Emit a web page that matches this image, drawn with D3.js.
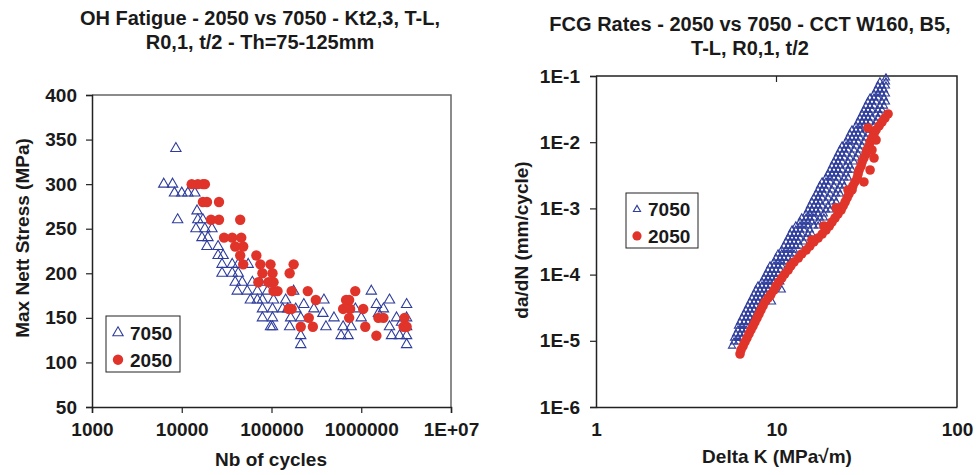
<!DOCTYPE html>
<html>
<head>
<meta charset="utf-8">
<script src="https://cdn.jsdelivr.net/npm/d3@7"></script>
<style>
body { margin: 0; background: #fff; }
svg text { font-family: "Liberation Sans", Arial, sans-serif; font-weight: bold; fill: #1a1a1a; }
</style>
</head>
<body>
<div id="main"></div>
<script>
const ctx = {
    WIDTH: 977,
    HEIGHT: 475,
    blue: "#2e3d9c",
    red: "#e0342a",
};

const seriesNames = ["7050", "2050"];

// OH fatigue: [Nb of cycles, max nett stress MPa]
const fatigue7050 = [
    [6300,300],[7900,300],[8600,340],
    [8300,290],[10000,290],[11700,290],[14000,290],
    [14800,270],[9000,260],[15100,260],[17200,260],
    [14400,250],[18100,250],[21700,250],
    [16800,240],[19600,240],
    [19100,230],[25400,230],
    [25400,220],[28900,220],
    [28100,210],[36500,210],[42600,210],[55000,210],
    [28100,200],[36500,200],[42600,200],
    [39400,190],[47200,190],[61200,190],[75000,190],
    [41500,180],[53700,180],[69600,180],[90200,180],[176500,180],
    [58100,170],[69600,170],[79200,170],[105300,170],[143700,170],[229000,165],[384000,170],
    [79200,160],[102600,160],[133000,160],[151300,160],[186000,160],[296500,160],
    [79200,150],[102600,150],[163400,150],[211800,150],[374000,155],[497000,150],
    [97500,140],[102600,140],[159300,140],[404000,140],[628000,140],[772000,140],
    [211800,130],[714000,130],[596000,130],
    [211800,120],
    [1295000,180],[1475000,165],[2064000,170],[860000,160],[1000000,150],[2473000,150],
    [1767000,160],[2064000,140],[2173000,130],[2673000,130],[3202000,165],[3202000,150],
    [3202000,140],[3202000,130],[3202000,120],[2813000,145],[1553000,155]
];
const fatigue2050 = [
    [12900,300],[15100,300],[17200,300],[18100,300],
    [17200,280],[19100,280],[26000,280],
    [21200,260],[26000,260],[44800,260],
    [29600,240],[36500,240],[46000,240],
    [39400,230],[48400,230],
    [44800,220],[67800,220],
    [48400,210],[75200,210],[97500,210],[176500,210],
    [79200,200],[102600,200],[159300,200],
    [71400,190],[92500,190],[105300,190],
    [105300,180],[116800,180],[167700,180],[253600,180],[857000,180],
    [312000,170],[678000,170],[733000,170],
    [155200,160],[167700,160],[628000,160],[752000,160],[1052000,160],
    [260400,150],[733000,150],[1553000,150],[1767000,150],[3040000,150],
    [211800,140],[288900,140],[1109000,140],[2962000,140],[3202000,140],
    [1475000,130]
];
const fatigueXTicks = [1000, 10000, 100000, 1000000, 10000000];
const fatigueXLabels = ["1000", "10000", "100000", "1000000", "1E+07"];
const fatigueYTicks = [50, 100, 150, 200, 250, 300, 350, 400];

// FCG rates 7050, read row by row: [da/dN, delta K values at that rate...]
const fcg7050Rows = [
    [8.34e-6, 5.67],
    [9.6e-6, 5.82, 6.12],
    [1.10e-5, 5.82, 6.12, 6.44],
    [1.27e-5, 5.97, 6.28, 6.61],
    [1.46e-5, 6.12, 6.44, 6.78, 7.13],
    [1.67e-5, 6.12, 6.44, 6.78],
    [1.92e-5, 6.28, 6.61, 6.95, 7.32],
    [2.21e-5, 6.44, 6.78, 7.13, 7.51],
    [2.54e-5, 6.61, 6.95, 7.32],
    [2.92e-5, 6.78, 7.13, 7.51, 7.90],
    [3.36e-5, 6.95, 7.32, 7.70],
    [3.86e-5, 7.13, 7.51, 7.90, 8.31, 9.45],
    [4.43e-5, 7.32, 7.70, 8.10, 8.53],
    [5.10e-5, 7.51, 7.90, 8.31, 8.75],
    [5.85e-5, 7.70, 8.10, 8.53, 8.98, 10.7],
    [6.73e-5, 7.90, 8.31, 8.75, 9.21],
    [7.73e-5, 8.31, 8.75, 9.21, 9.69, 10.5],
    [8.89e-5, 8.53, 8.98, 9.45, 9.94],
    [1.02e-4, 8.75, 9.21, 9.69, 10.2],
    [1.17e-4, 8.98, 9.45, 9.94, 10.5, 11.3],
    [1.35e-4, 9.21, 9.69, 10.2, 10.7],
    [1.55e-4, 9.69, 10.2, 10.7, 11.3, 11.9],
    [1.78e-4, 9.94, 10.5, 11.0, 11.6],
    [2.05e-4, 10.2, 10.7, 11.3, 11.9, 12.5],
    [2.35e-4, 10.7, 11.3, 11.9, 12.5],
    [2.70e-4, 11.0, 11.6, 12.2, 12.8, 13.5],
    [3.11e-4, 11.3, 11.9, 12.5, 13.2, 14.2],
    [3.57e-4, 11.6, 12.2, 12.8, 13.5, 14.6],
    [4.10e-4, 11.9, 12.5, 13.2, 13.8, 14.95, 15.7],
    [4.72e-4, 12.2, 12.8, 13.5, 14.2, 15.3],
    [5.42e-4, 12.8, 13.5, 14.2, 14.95, 16.1, 17.0],
    [6.23e-4, 13.5, 14.2, 14.95, 15.7, 17.0],
    [7.16e-4, 13.8, 14.6, 15.3, 16.1, 17.4, 18.3],
    [8.23e-4, 14.6, 15.3, 16.1, 17.0, 18.3],
    [9.46e-4, 14.95, 15.7, 16.6, 17.4, 18.8, 19.8],
    [1.09e-3, 15.3, 16.1, 17.0, 17.9, 19.3],
    [1.25e-3, 15.7, 16.6, 17.4, 18.8, 20.3, 21.4],
    [1.44e-3, 16.1, 17.0, 17.9, 19.3, 20.8],
    [1.65e-3, 16.6, 17.4, 18.3, 19.8, 21.4, 22.5],
    [1.90e-3, 17.0, 17.9, 18.8, 20.3, 21.9],
    [2.18e-3, 17.4, 18.3, 19.3, 20.8, 22.5, 23.7],
    [2.51e-3, 17.9, 18.8, 19.8, 21.4, 23.1],
    [2.88e-3, 18.8, 19.8, 20.8, 21.9, 23.7, 24.9],
    [3.31e-3, 19.3, 20.3, 21.4, 22.5, 24.3],
    [3.80e-3, 19.8, 20.8, 21.9, 23.1, 24.9, 26.2],
    [4.37e-3, 20.3, 21.4, 22.5, 24.3, 25.5],
    [5.02e-3, 20.8, 21.9, 23.1, 24.9, 26.9],
    [5.77e-3, 21.4, 22.5, 23.7, 25.5, 27.6],
    [6.63e-3, 21.9, 23.1, 24.3, 26.2, 28.3],
    [7.62e-3, 22.5, 23.7, 24.9, 26.9, 29.0],
    [8.76e-3, 23.1, 24.3, 25.5, 27.6, 29.8],
    [1.01e-2, 24.3, 25.5, 26.9, 28.3, 30.5],
    [1.16e-2, 24.9, 26.2, 27.6, 29.0, 31.3],
    [1.33e-2, 25.5, 26.9, 28.3, 29.8, 32.1],
    [1.53e-2, 26.2, 27.6, 29.0, 31.3, 33.0],
    [1.76e-2, 27.6, 29.0, 30.5, 32.1, 34.7],
    [2.02e-2, 28.3, 29.8, 31.3, 33.0, 35.6],
    [2.32e-2, 29.0, 30.5, 32.1, 33.8, 36.5],
    [2.67e-2, 29.8, 31.3, 33.0, 35.6, 37.4],
    [3.06e-2, 30.5, 32.1, 33.8, 36.5, 38.4],
    [3.52e-2, 31.3, 33.0, 34.7, 37.4, 39.4],
    [4.05e-2, 32.1, 33.8, 35.6, 38.4, 40.4],
    [4.65e-2, 33.0, 34.7, 36.5, 39.4],
    [5.35e-2, 34.7, 36.5, 38.4, 40.4],
    [6.15e-2, 35.6, 37.4, 39.4],
    [7.06e-2, 36.5, 38.4, 40.4],
    [8.12e-2, 37.4, 40.4],
    [9.33e-2, 40.4]
];
// FCG rates 2050: [delta K, da/dN]
const fcg2050 = [
    [6.28,6.32e-6],[6.36,7.26e-6],[6.53,8.34e-6],[6.69,9.6e-6],[6.86,1.10e-5],[7.04,1.27e-5],
    [7.22,1.46e-5],[7.41,1.67e-5],[7.60,1.92e-5],[7.80,2.21e-5],[8.00,2.54e-5],[8.20,2.92e-5],
    [8.42,3.36e-5],[8.64,3.86e-5],[8.98,4.43e-5],[9.33,5.10e-5],[9.69,5.85e-5],[9.94,6.73e-5],
    [10.3,7.73e-5],[10.7,8.89e-5],[11.1,1.02e-4],[11.6,1.17e-4],[12.0,1.35e-4],[12.5,1.55e-4],
    [13.2,1.78e-4],[13.8,2.05e-4],[14.6,2.35e-4],[15.3,2.70e-4],[16.1,3.11e-4],[17.0,3.57e-4],
    [17.9,4.10e-4],[18.8,4.72e-4],[19.6,5.42e-4],[20.3,6.23e-4],[21.1,7.16e-4],[21.9,8.23e-4],
    [22.8,9.46e-4],[23.4,1.09e-3],[24.0,1.25e-3],[24.6,1.44e-3],[25.2,1.65e-3],[26.2,1.90e-3],
    [26.5,2.18e-3],[27.2,2.51e-3],[28.0,2.88e-3],[28.3,3.31e-3],[28.7,3.80e-3],[29.4,4.37e-3],
    [29.8,5.02e-3],[30.5,5.77e-3],[31.3,6.63e-3],[31.7,7.62e-3],[32.6,8.76e-3],[33.0,1.01e-2],
    [33.8,1.16e-2],[34.7,1.33e-2],[35.6,1.53e-2],[37.0,1.76e-2],[38.4,2.02e-2],[39.9,2.32e-2],
    [41.5,2.67e-2],
    [32.1,1.64e-2],[33.8,7.62e-3],[35.6,1.08e-2],[34.7,5.77e-3],[33.0,3.80e-3],[30.5,2.51e-3],
    [15.7,3.32e-4],[18.3,5.42e-4],[21.4,1.02e-3],[24.9,1.90e-3],[11.9,1.35e-4],[9.21,4.77e-5]
];
const fcgXTicks = [1, 10, 100];
const fcgXLabels = ["1", "10", "100"];
const fcgYTicks = [1e-6, 1e-5, 1e-4, 1e-3, 1e-2, 1e-1];
const fcgYLabels = ["1E-6", "1E-5", "1E-4", "1E-3", "1E-2", "1E-1"];

const fcg7050 = fcg7050Rows.flatMap(r => r.slice(1).map(k => [k, r[0]]));


function drawMarkers(g, data, x, y, kind, size) {
    if (kind === "tri") {
        g.selectAll(null)
            .data(data)
            .enter()
            .append("path")
            .attr("d", d3.symbol().type(d3.symbolTriangle).size(size))
            .attr("transform", d => `translate(${x(d[0])},${y(d[1])})`)
            .attr("fill", "none")
            .attr("stroke", ctx.blue)
            .attr("stroke-width", 1.1);
    } else {
        g.selectAll(null)
            .data(data)
            .enter()
            .append("circle")
            .attr("cx", d => x(d[0]))
            .attr("cy", d => y(d[1]))
            .attr("r", size)
            .attr("fill", ctx.red);
    }
}

function drawLegend(svg, box, triSize, r, fontSize) {
    const lg = svg.append("g");
    lg.append("rect")
        .attr("x", box.x).attr("y", box.y)
        .attr("width", box.w).attr("height", box.h)
        .attr("fill", "#fff")
        .attr("stroke", "#222")
        .attr("stroke-width", 1);
    seriesNames.forEach((name, i) => {
        const cy = box.y + box.h * (i === 0 ? 0.3 : 0.78);
        if (i === 0) {
            lg.append("path")
                .attr("d", d3.symbol().type(d3.symbolTriangle).size(triSize))
                .attr("transform", `translate(${box.mx},${cy})`)
                .attr("fill", "none")
                .attr("stroke", ctx.blue)
                .attr("stroke-width", 1.1);
        } else {
            lg.append("circle")
                .attr("cx", box.mx).attr("cy", cy).attr("r", r)
                .attr("fill", ctx.red);
        }
        lg.append("text")
            .attr("x", box.tx)
            .attr("y", cy)
            .attr("dy", "0.36em")
            .style("font-size", fontSize + "px")
            .text(name);
    });
}

function styleAxis(g) {
    g.select(".domain").attr("stroke", "#222").attr("stroke-width", 1.5);
    g.selectAll(".tick line").attr("stroke", "#222").attr("stroke-width", 1.2);
    g.selectAll("text").style("font-size", "19px").attr("fill", "#1a1a1a")
        .style("font-family", "Liberation Sans, Arial, sans-serif").style("font-weight", "bold");
}

function drawFatigue(svg) {
    const x = d3.scaleLog().domain([1000, 1e7]).range([92, 451]);
    const y = d3.scaleLinear().domain([50, 400]).range([407, 95]);

    // frame: grey top / right
    svg.append("path")
        .attr("d", `M${x(1000)},${y(400)}H${x(1e7)}V${y(50)}`)
        .attr("fill", "none")
        .attr("stroke", "#666")
        .attr("stroke-width", 1.5);

    const gx = svg.append("g")
        .attr("transform", `translate(0,${y(50)})`)
        .call(d3.axisBottom(x).tickValues(fatigueXTicks)
            .tickFormat((d, i) => fatigueXLabels[i]).tickSize(6).tickPadding(10));
    const gy = svg.append("g")
        .attr("transform", `translate(${x(1000)},0)`)
        .call(d3.axisLeft(y).tickValues(fatigueYTicks).tickSize(6).tickPadding(9));
    styleAxis(gx);
    styleAxis(gy);

    const plot = svg.append("g");
    drawMarkers(plot, fatigue7050, x, y, "tri", 46);
    drawMarkers(plot, fatigue2050, x, y, "dot", 5.2);

    drawLegend(svg, {x: 106, y: 316, w: 74, h: 56, mx: 118, tx: 130}, 46, 5.2, 19);

    svg.append("text")
        .attr("text-anchor", "middle")
        .style("font-size", "20px")
        .selectAll("tspan")
        .data(["OH Fatigue - 2050 vs 7050 - Kt2,3, T-L,", "R0,1, t/2 - Th=75-125mm"])
        .enter().append("tspan")
        .attr("x", 260)
        .attr("y", (d, i) => 25 + i * 24)
        .text(d => d);

    svg.append("text")
        .attr("x", 271).attr("y", 466)
        .attr("text-anchor", "middle")
        .style("font-size", "19px")
        .text("Nb of cycles");

    svg.append("text")
        .attr("transform", "translate(22,238) rotate(-90)")
        .attr("text-anchor", "middle")
        .attr("dy", "0.35em")
        .style("font-size", "19px")
        .text("Max Nett Stress (MPa)");
}

function drawFcg(svg) {
    const x = d3.scaleLog().domain([1, 100]).range([596, 957]);
    const y = d3.scaleLog().domain([1e-6, 1e-1]).range([407, 76]);

    svg.append("path")
        .attr("d", `M${x(1)},${y(1e-1)}H${x(100)}V${y(1e-6)}`)
        .attr("fill", "none")
        .attr("stroke", "#222")
        .attr("stroke-width", 1.5);
    // top mirror tick
    svg.append("line")
        .attr("x1", x(10)).attr("x2", x(10))
        .attr("y1", y(1e-1)).attr("y2", y(1e-1) + 6)
        .attr("stroke", "#222").attr("stroke-width", 1.2);

    const gx = svg.append("g")
        .attr("transform", `translate(0,${y(1e-6)})`)
        .call(d3.axisBottom(x).tickValues(fcgXTicks)
            .tickFormat((d, i) => fcgXLabels[i]).tickSize(0).tickPadding(16));
    const gy = svg.append("g")
        .attr("transform", `translate(${x(1)},0)`)
        .call(d3.axisLeft(y).tickValues(fcgYTicks)
            .tickFormat((d, i) => fcgYLabels[i]).tickSize(6).tickPadding(10));
    styleAxis(gx);
    styleAxis(gy);

    const plot = svg.append("g");
    drawMarkers(plot, fcg7050, x, y, "tri", 22);
    drawMarkers(plot, fcg2050, x, y, "dot", 4.8);

    drawLegend(svg, {x: 626, y: 193, w: 72, h: 55, mx: 637, tx: 648}, 22, 4.6, 19);

    svg.append("text")
        .attr("text-anchor", "middle")
        .style("font-size", "20px")
        .selectAll("tspan")
        .data(["FCG Rates - 2050 vs 7050 - CCT W160, B5,", "T-L, R0,1, t/2"])
        .enter().append("tspan")
        .attr("x", 750)
        .attr("y", (d, i) => 31 + i * 24)
        .text(d => d);

    svg.append("text")
        .attr("x", 777).attr("y", 463)
        .attr("text-anchor", "middle")
        .style("font-size", "19px")
        .text("Delta K (MPa\u221Am)");

    svg.append("text")
        .attr("transform", "translate(521,240) rotate(-90)")
        .attr("text-anchor", "middle")
        .attr("dy", "0.35em")
        .style("font-size", "19px")
        .text("da/dN (mm/cycle)");
}

function createViz() {
    const svg = d3.select("#main").append("svg")
        .attr("width", ctx.WIDTH)
        .attr("height", ctx.HEIGHT);
    drawFatigue(svg);
    drawFcg(svg);
}

createViz();
</script>
</body>
</html>
